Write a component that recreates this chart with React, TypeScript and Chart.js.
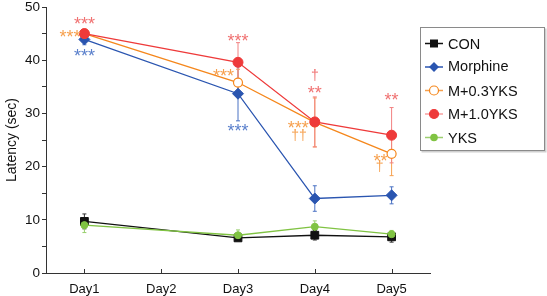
import React, { useEffect, useRef } from "react";
import { Chart, registerables } from "chart.js";

Chart.register(...registerables);

// ---------------- data ----------------
const days = ["Day1", "Day2", "Day3", "Day4", "Day5"];
const seriesNames = ["CON", "Morphine", "M+0.3YKS", "M+1.0YKS", "YKS"];

const conValues = [9.7, null, 6.6, 7.1, 6.8];
const conErrors = [1.4, null, 0.5, 0.9, 1.0];
const morphineValues = [43.9, null, 33.7, 14.0, 14.6];
const morphineErrors = [1.0, null, 5.1, 2.4, 1.6];
const m03Values = [45.0, null, 35.8, 28.3, 22.4];
const m03Errors = [0.6, null, 2.5, 4.6, 4.1];
const m10Values = [45.0, null, 39.6, 28.4, 25.9];
const m10Errors = [0.6, null, 3.7, 4.7, 5.2];
const yksValues = [9.0, null, 7.1, 8.7, 7.3];
const yksErrors = [1.4, null, 1.0, 1.1, 0.7];

const yMin = 0;
const yMax = 50;
const yLabelStep = 10;
const yTickStep = 5;
const yTitle = "Latency (sec)";

// significance marks: series index, day, value level, text, side
const marks = [
  { series: 3, day: "Day1", value: 47.4, text: "***", side: "center" },
  { series: 2, day: "Day1", value: 45.0, text: "***", side: "left" },
  { series: 1, day: "Day1", value: 41.4, text: "***", side: "center" },
  { series: 3, day: "Day3", value: 44.3, text: "***", side: "center" },
  { series: 2, day: "Day3", value: 37.6, text: "***", side: "left" },
  { series: 1, day: "Day3", value: 27.3, text: "***", side: "center" },
  { series: 3, day: "Day4", value: 37.2, text: "†", side: "center" },
  { series: 3, day: "Day4", value: 34.4, text: "**", side: "center" },
  { series: 2, day: "Day4", value: 27.9, text: "***", side: "leftFar" },
  { series: 2, day: "Day4", value: 25.9, text: "††", side: "leftFar2" },
  { series: 3, day: "Day5", value: 33.1, text: "**", side: "center" },
  { series: 2, day: "Day5", value: 21.7, text: "**", side: "left" },
  { series: 2, day: "Day5", value: 20.1, text: "†", side: "leftFar2" },
];

// ---------------- styles ----------------
const FONT = "'Liberation Sans', Arial, Helvetica, sans-serif";
const lineColors = ["#111111", "#2a55b0", "#f5871c", "#ee3a3a", "#80c343"];
const errColors = ["#333333", "#4a72c4", "#f6a04e", "#f28282", "#98cf6c"];
const markColors = ["#333333", "#5b80cc", "#f6a04e", "#f07272", "#98cf6c"];
const legendLineColors = ["#111111", "#2a55b0", "#f6a04e", "#f7a0a0", "#9ccf70"];
const valuesList = [conValues, morphineValues, m03Values, m10Values, yksValues];
const errorsList = [conErrors, morphineErrors, m03Errors, m10Errors, yksErrors];

const pointStyles = ["rect", "rectRot", "circle", "circle", "circle"];
const pointRadii = [5.5, 5.5, 4.5, 5, 3.5];
const pointFills = ["#111111", "#2a55b0", "#ffffff", "#ee3a3a", "#80c343"];
const drawOrder = [5, 3, 2, 1, 4];

function drawMarker(ctx: CanvasRenderingContext2D, i: number, x: number, y: number) {
  ctx.save();
  ctx.fillStyle = pointFills[i];
  ctx.strokeStyle = lineColors[i];
  ctx.lineWidth = 1.2;
  ctx.beginPath();
  if (i === 0) {
    ctx.rect(x - 4, y - 4, 8, 8);
    ctx.fill();
  } else if (i === 1) {
    ctx.moveTo(x, y - 5);
    ctx.lineTo(x + 5, y);
    ctx.lineTo(x, y + 5);
    ctx.lineTo(x - 5, y);
    ctx.closePath();
    ctx.fill();
  } else {
    ctx.arc(x, y, i === 4 ? 3.2 : 4.5, 0, Math.PI * 2);
    ctx.fill();
    ctx.stroke();
  }
  ctx.restore();
}

const errorBarPlugin = {
  id: "errorBars",
  beforeDatasetsDraw(chart: any) {
    const ctx = chart.ctx;
    const ys = chart.scales.y;
    chart.data.datasets.forEach((ds: any, di: number) => {
      const meta = chart.getDatasetMeta(di);
      const errs = errorsList[di];
      ctx.save();
      ctx.strokeStyle = errColors[di];
      ctx.lineWidth = 1;
      ds.data.forEach((v: number | null, i: number) => {
        const e = errs[i];
        if (v == null || e == null) return;
        const x = meta.data[i].x;
        const yt = ys.getPixelForValue(v + e);
        const yb = ys.getPixelForValue(v - e);
        ctx.beginPath();
        ctx.moveTo(x, yt);
        ctx.lineTo(x, yb);
        ctx.moveTo(x - 2, yt);
        ctx.lineTo(x + 2, yt);
        ctx.moveTo(x - 2, yb);
        ctx.lineTo(x + 2, yb);
        ctx.stroke();
      });
      ctx.restore();
    });
  },
};

function drawCenteredText(ctx: CanvasRenderingContext2D, text: string, x: number, yc: number, align: CanvasTextAlign) {
  ctx.textAlign = align;
  ctx.textBaseline = "alphabetic";
  const m = ctx.measureText(text);
  const asc = m.actualBoundingBoxAscent;
  const desc = m.actualBoundingBoxDescent;
  ctx.fillText(text, x, yc + (asc - desc) / 2);
}

const overlayPlugin = {
  id: "overlay",
  afterDatasetsDraw(chart: any) {
    const ctx = chart.ctx;
    const xs = chart.scales.x;
    const ys = chart.scales.y;
    ctx.save();
    marks.forEach((m) => {
      const x = xs.getPixelForValue(days.indexOf(m.day));
      const y = ys.getPixelForValue(m.value);
      ctx.fillStyle = markColors[m.series];
      const isDagger = m.text.indexOf("†") >= 0;
      ctx.font = isDagger ? `14px ${FONT}` : `18px ${FONT}`;
      if (m.side === "center") drawCenteredText(ctx, m.text, x, y, "center");
      else if (m.side === "left") drawCenteredText(ctx, m.text, x - 4, y, "right");
      else if (m.side === "leftFar") drawCenteredText(ctx, m.text, x - 6, y, "right");
      else drawCenteredText(ctx, m.text, x - 8, y, "right");
    });
    ctx.restore();
  },
  afterDraw(chart: any) {
    const ctx = chart.ctx;
    const xs = chart.scales.x;
    const area = chart.chartArea;
    // inward x ticks
    ctx.save();
    ctx.strokeStyle = "#333";
    ctx.lineWidth = 1;
    days.forEach((_, i) => {
      const x = Math.round(xs.getPixelForValue(i)) + 0.5;
      ctx.beginPath();
      ctx.moveTo(x, area.bottom);
      ctx.lineTo(x, area.bottom - 4);
      ctx.stroke();
    });
    // legend box
    const lx = 420, ly = 27, lw = 125, lh = 124;
    ctx.fillStyle = "#cfcfcf";
    ctx.fillRect(lx + 1.5, ly + 1.5, lw, lh);
    ctx.fillStyle = "#ffffff";
    ctx.fillRect(lx, ly, lw, lh);
    ctx.strokeStyle = "#8a8a8a";
    ctx.strokeRect(lx + 0.5, ly + 0.5, lw - 1, lh - 1);
    seriesNames.forEach((name, i) => {
      const ry = 43.5 + i * 23.5;
      ctx.strokeStyle = legendLineColors[i];
      ctx.lineWidth = 1.5;
      ctx.beginPath();
      ctx.moveTo(425, ry);
      ctx.lineTo(443, ry);
      ctx.stroke();
      drawMarker(ctx, i, 434, ry);
      ctx.fillStyle = "#111";
      ctx.font = `14.5px ${FONT}`;
      drawCenteredText(ctx, name, 448, ry, "left");
    });
    ctx.restore();
  },
};

export default function App() {
  const ref = useRef<HTMLCanvasElement>(null);
  useEffect(() => {
    const canvas = ref.current;
    if (!canvas) return;
    Chart.defaults.font.family = FONT;
    const chart = new Chart(canvas, {
      type: "line",
      data: {
        labels: days,
        datasets: seriesNames.map((name, i) => ({
          label: name,
          data: valuesList[i],
          borderColor: lineColors[i],
          backgroundColor: pointFills[i],
          borderWidth: 1.3,
          pointStyle: pointStyles[i] as any,
          pointRadius: pointRadii[i],
          pointBorderWidth: i === 2 ? 1.2 : 1,
          pointBackgroundColor: pointFills[i],
          pointBorderColor: lineColors[i],
          spanGaps: true,
          tension: 0,
          order: drawOrder[i],
        })),
      },
      options: {
        responsive: false,
        animation: false,
        devicePixelRatio: 1,
        layout: { padding: { top: 7, right: 117, left: 0, bottom: 0 } },
        plugins: { legend: { display: false }, tooltip: { enabled: false } },
        scales: {
          x: {
            type: "category",
            offset: true,
            grid: { display: false },
            border: { display: true, color: "#333", width: 1 },
            ticks: { color: "#111", font: { size: 13, family: FONT }, padding: 1 },
            afterFit: (s: any) => {
              s.height = 23;
              s.paddingLeft = 0;
              s.paddingRight = 0;
            },
          },
          y: {
            min: yMin,
            max: yMax,
            ticks: {
              stepSize: yTickStep,
              autoSkip: false,
              color: "#111",
              font: { size: 13.5, family: FONT },
              padding: 2,
              callback: (v: any) => (Number(v) % yLabelStep === 0 ? String(v) : ""),
            },
            grid: { drawOnChartArea: false, tickLength: 4, color: "#333" },
            border: { display: true, color: "#333", width: 1 },
            title: {
              display: true,
              text: yTitle,
              color: "#111",
              font: { size: 14, family: FONT },
              padding: { top: 4, bottom: 0 },
            },
            afterFit: (s: any) => {
              s.width = 46;
              s.paddingTop = 0;
              s.paddingBottom = 0;
            },
          },
        },
      },
      plugins: [errorBarPlugin, overlayPlugin],
    } as any);
    return () => chart.destroy();
  }, []);
  return (
    <div style={{ position: "absolute", left: 0, top: 0, width: 547, height: 296, background: "#fff" }}>
      <canvas ref={ref} width={547} height={296} style={{ display: "block", width: 547, height: 296 }} />
    </div>
  );
}
